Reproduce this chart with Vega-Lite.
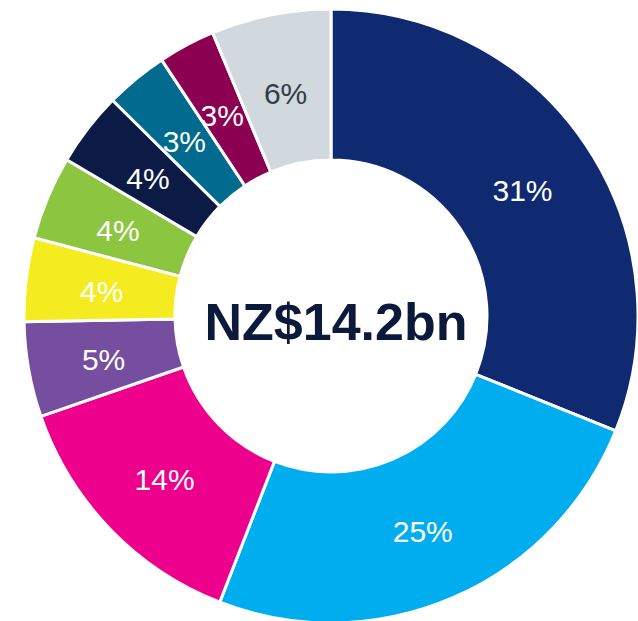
{
  "$schema": "https://vega.github.io/schema/vega-lite/v6.json",
  "width": 662,
  "height": 632,
  "autosize": "none",
  "padding": 0,
  "background": "white",
  "config": {"view": {"stroke": null}, "font": "Liberation Sans"},
  "datasets": {
    "slices": [
      {"order": 1, "category": "A", "value": 31.1, "label": "31%"},
      {"order": 2, "category": "B", "value": 24.8, "label": "25%"},
      {"order": 3, "category": "C", "value": 13.8, "label": "14%"},
      {"order": 4, "category": "D", "value": 5.0, "label": "5%"},
      {"order": 5, "category": "E", "value": 4.4, "label": "4%"},
      {"order": 6, "category": "F", "value": 4.4, "label": "4%"},
      {"order": 7, "category": "G", "value": 3.9, "label": "4%"},
      {"order": 8, "category": "H", "value": 3.3, "label": "3%"},
      {"order": 9, "category": "I", "value": 3.0, "label": "3%"},
      {"order": 10, "category": "J", "value": 6.3, "label": "6%"}
    ],
    "center": [{"title": "NZ$14.2bn"}]
  },
  "layer": [
    {
      "data": {"name": "slices"},
      "mark": {"type": "arc", "innerRadius": 156, "outerRadius": 307, "stroke": "white", "strokeWidth": 3},
      "encoding": {
        "theta": {"field": "value", "type": "quantitative", "stack": true},
        "order": {"field": "order", "type": "quantitative"},
        "color": {
          "field": "category", "type": "nominal", "legend": null,
          "scale": {
            "domain": ["A", "B", "C", "D", "E", "F", "G", "H", "I", "J"],
            "range": ["#102a72", "#00aeef", "#ec008c", "#764ea0", "#f5ec1f", "#8cc540", "#0c1a46", "#006a8f", "#8c0052", "#d1d9de"]
          }
        }
      }
    },
    {
      "data": {"name": "slices"},
      "mark": {"type": "text", "radius": 231, "fontSize": 30, "font": "Liberation Sans", "dy": 5},
      "encoding": {
        "theta": {"field": "value", "type": "quantitative", "stack": true},
        "order": {"field": "order", "type": "quantitative"},
        "text": {"field": "label", "type": "nominal"},
        "color": {
          "field": "category", "type": "nominal", "legend": null,
          "scale": {
            "domain": ["A", "B", "C", "D", "E", "F", "G", "H", "I", "J"],
            "range": ["#ffffff", "#ffffff", "#ffffff", "#ffffff", "#ffffff", "#ffffff", "#ffffff", "#ffffff", "#ffffff", "#333d45"]
          }
        }
      }
    },
    {
      "data": {"name": "center"},
      "mark": {"type": "text", "fontSize": 52, "fontWeight": "bold", "font": "Liberation Sans", "color": "#0b1a3b", "baseline": "middle", "align": "center", "dy": 8, "dx": 5},
      "encoding": {
        "text": {"field": "title", "type": "nominal"}
      }
    }
  ],
  "resolve": {"scale": {"color": "independent"}}
}
